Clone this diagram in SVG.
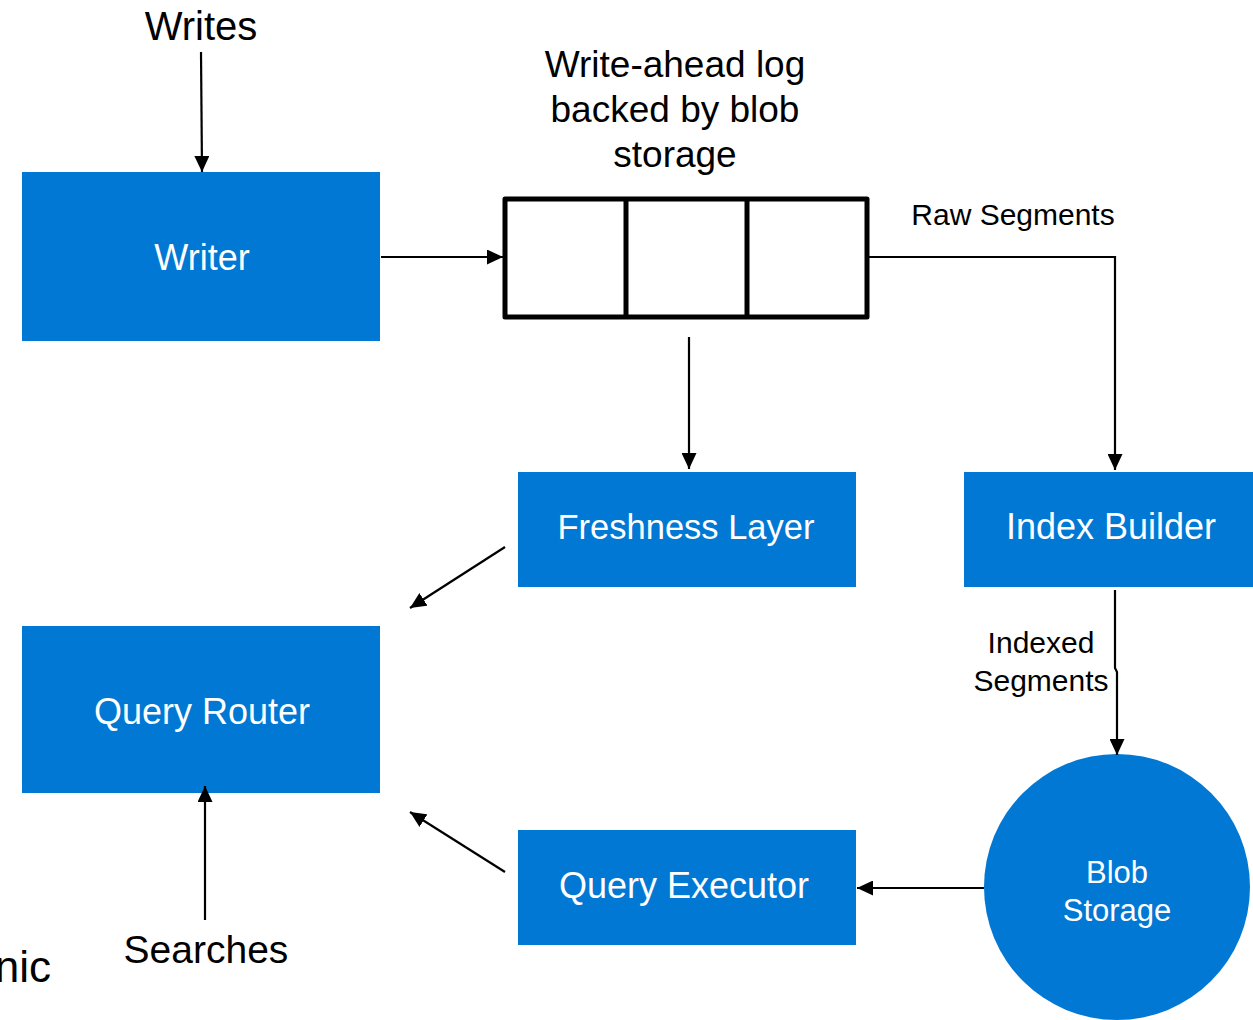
<svg xmlns="http://www.w3.org/2000/svg" width="1253" height="1020" viewBox="0 0 1253 1020">
<defs>
<style>
.box{fill:#0078D4;}
.wt{fill:#fff;font-family:"Liberation Sans",Arial,sans-serif;text-anchor:middle;}
.lbl{fill:#000;font-family:"Liberation Sans",Arial,sans-serif;text-anchor:middle;}
.con{fill:none;stroke:#000;stroke-width:2.2;}
</style>
<marker id="ah" markerUnits="userSpaceOnUse" markerWidth="17" markerHeight="15" refX="16" refY="7.5" orient="auto">
<path d="M0,0 L16,7.5 L0,15 z" fill="#000"/>
</marker>
</defs>
<rect width="1253" height="1020" fill="#fff"/>

<g id="writes-label"><text class="lbl" x="201" y="40" font-size="40">Writes</text></g>
<g id="writer"><rect class="box" x="22" y="172" width="358" height="169"/><text class="wt" x="202" y="270" font-size="36">Writer</text></g>
<g id="wal">
<text class="lbl" font-size="37" x="675" y="77">Write-ahead log</text>
<text class="lbl" font-size="37" x="675" y="122">backed by blob</text>
<text class="lbl" font-size="37" x="675" y="167">storage</text>
<rect x="505" y="199" width="362" height="118" fill="#fff" stroke="#000" stroke-width="5" stroke-linejoin="round"/>
<line x1="626" y1="199" x2="626" y2="317" stroke="#000" stroke-width="5"/>
<line x1="747" y1="199" x2="747" y2="317" stroke="#000" stroke-width="5"/>
</g>
<g id="freshness"><rect class="box" x="518" y="472" width="338" height="115"/><text class="wt" x="686" y="539" font-size="34.5">Freshness Layer</text></g>
<g id="index-builder"><rect class="box" x="964" y="472" width="289" height="115"/><text class="wt" x="1111" y="539" font-size="36">Index Builder</text></g>
<g id="query-router"><rect class="box" x="22" y="626" width="358" height="167"/><text class="wt" x="202" y="724" font-size="36">Query Router</text></g>
<g id="query-executor"><rect class="box" x="518" y="830" width="338" height="115"/><text class="wt" x="684" y="898" font-size="36">Query Executor</text></g>
<g id="blob-storage"><circle class="box" cx="1117" cy="887" r="133"/>
<text class="wt" x="1117" y="883" font-size="31">Blob</text>
<text class="wt" x="1117" y="921" font-size="31">Storage</text></g>
<g id="searches-label"><text class="lbl" x="206" y="963" font-size="39">Searches</text></g>
<g id="partial-label"><text class="lbl" x="51" y="982" font-size="44" style="text-anchor:end">nic</text></g>

<g id="connectors">
<line class="con" x1="201" y1="52" x2="202" y2="172" marker-end="url(#ah)"/>
<line class="con" x1="381" y1="257" x2="503" y2="257" marker-end="url(#ah)"/>
<polyline class="con" points="869,257 1115,257 1115,470" marker-end="url(#ah)"/>
<line class="con" x1="689" y1="337" x2="689" y2="469" marker-end="url(#ah)"/>
<polyline class="con" points="1115,590 1115,668 1117,672 1117,755" marker-end="url(#ah)"/>
<line class="con" x1="505" y1="547" x2="410" y2="608" marker-end="url(#ah)"/>
<line class="con" x1="505" y1="872" x2="410" y2="812" marker-end="url(#ah)"/>
<line class="con" x1="984" y1="888" x2="857" y2="888" marker-end="url(#ah)"/>
<line class="con" x1="205" y1="920" x2="205" y2="786" marker-end="url(#ah)"/>
<text class="lbl" x="1013" y="225" font-size="30">Raw Segments</text>
<text class="lbl" x="1041" y="653" font-size="30">Indexed</text>
<text class="lbl" x="1041" y="691" font-size="30">Segments</text>
</g>
</svg>
